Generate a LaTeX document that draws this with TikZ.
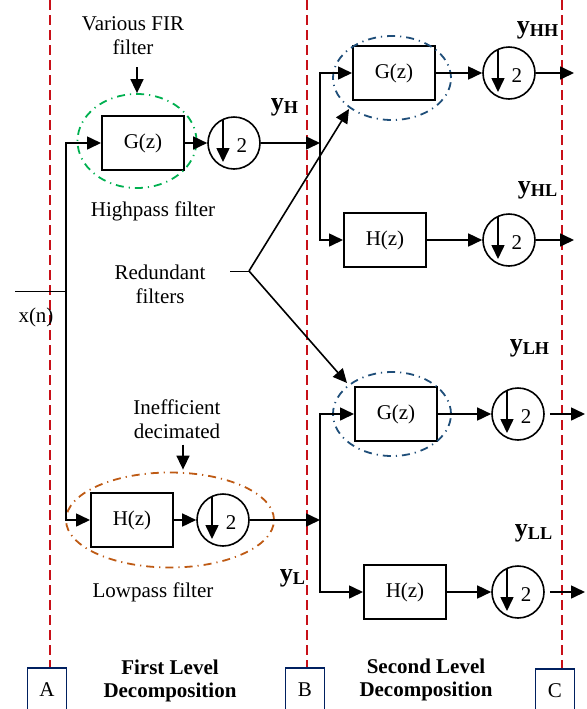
\documentclass[tikz,border=0pt]{standalone}
\usepackage{fontspec}
\setmainfont{Liberation Serif}
\usetikzlibrary{arrows.meta,shapes.geometric}
\definecolor{divred}{RGB}{200,16,24}
\definecolor{hpgreen}{RGB}{0,176,80}
\definecolor{lpbrown}{RGB}{190,90,20}
\definecolor{rfblue}{RGB}{31,78,121}
\definecolor{tagblue}{RGB}{0,32,96}
\newcommand{\dectwo}[3]{%
  \node[dec] (#1) at (#2,#3) {};
  \draw[arr] ([shift={(-11,-24)}]#1.center) -- ([shift={(-11,19)}]#1.center);
  \node (#1n) at ([shift={(8,3)}]#1.center) {2};}
\begin{document}
\begin{tikzpicture}[x=0.5pt,y=-0.5pt,font=\fontsize{10.5}{12}\selectfont,
  filt/.style={draw,line width=1pt,minimum width=41pt,minimum height=27pt,inner sep=0pt},
  dec/.style={circle,draw,line width=0.8pt,minimum size=26pt,inner sep=0pt},
  arr/.style={line width=0.8pt,-{Triangle[length=7pt,width=6.5pt]}},
  ring/.style={ellipse,draw,line width=0.9pt,inner sep=0pt,dash pattern=on 4pt off 2.5pt on 0.6pt off 2.5pt},
  sig/.style={font=\fontsize{13}{14}\selectfont\bfseries},
  tag/.style={draw=tagblue,line width=0.9pt,minimum width=19.5pt,minimum height=22pt},
  divide/.style={divred,line width=1pt,dash pattern=on 5pt off 2.5pt}]
\useasboundingbox (0,0) rectangle (587,709);
% level boundaries
\draw[divide] (50,0) -- (50,668);
\draw[divide] (307,0) -- (307,668);
\draw[divide] (562,0) -- (562,670);
\node[tag] (ta) at (47,690) {A};
\node[tag] (tb) at (305,690) {B};
\node[tag] (tc) at (555,691) {C};
\node[align=center,font=\fontsize{10.5}{11.5}\selectfont\bfseries] (lev1) at (170,681) {First Level\\Decomposition};
\node[align=center,font=\fontsize{10.5}{11.5}\selectfont\bfseries] (lev2) at (426,680) {Second Level\\Decomposition};
% first level
\coordinate (xin) at (15,291);
\coordinate (xs) at (66,291);
\node (xn) at (36,317) {x(n)};
\node[filt] (g1) at (143,143) {G(z)};
\dectwo{d1}{234}{143}
\node[filt] (h1) at (132,520) {H(z)};
\dectwo{d2}{223}{520}
\node[ring,draw=hpgreen,minimum width=59.5pt,minimum height=47pt] (hp) at (137,141) {};
\node[ring,draw=lpbrown,minimum width=104pt,minimum height=47.5pt] (lp) at (170,520) {};
\draw (xin) -- (xs);
\draw[arr] (xs) |- (g1.west);
\draw[arr] (xs) |- (h1.west);
\draw[arr] (g1) -- (d1);
\draw[arr] (h1) -- (d2);
\coordinate (b1) at (320,143);
\coordinate (b2) at (320,520);
\draw[arr] (d1) -- (b1);
\draw[arr] (d2) -- (b2);
\node[align=center] (fir) at (133,36) {Various FIR\\filter};
\draw[arr] ([yshift=13pt]hp.north) -- (hp.north);
\node[align=center] (ineff) at (177,419) {Inefficient\\decimated};
\draw[arr] ([shift={(13,-27)}]lp.north) -- ([shift={(13,-2)}]lp.north);
\node (hpl) at (153,211) {Highpass filter};
\node (lpl) at (153,592) {Lowpass filter};
\node[sig] (yh) at (285,107) {y\textsubscript{H}};
\node[sig] (yl) at (293,578) {y\textsubscript{L}};
% second level
\node[filt] (g2) at (394,73) {G(z)};
\dectwo{d3}{509}{73}
\node[filt] (h2) at (385,240) {H(z)};
\dectwo{d4}{509}{240}
\node[filt] (g3) at (396,414) {G(z)};
\dectwo{d5}{518}{414}
\node[filt] (h3) at (405,592) {H(z)};
\dectwo{d6}{518}{592}
\node[ring,draw=rfblue,minimum width=59pt,minimum height=42pt] (rf1) at (392,78) {};
\node[ring,draw=rfblue,minimum width=59pt,minimum height=42pt] (rf2) at (392,414) {};
\draw[arr] (b1) |- (g2.west);
\draw[arr] (b1) |- (h2.west);
\draw[arr] (b2) |- (g3.west);
\draw[arr] (b2) |- (h3.west);
\draw[arr] (g2) -- (d3);
\draw[arr] (h2) -- (d4);
\draw[arr] (g3) -- (d5);
\draw[arr] (h3) -- (d6);
\coordinate (o3) at (574,73);
\coordinate (o4) at (574,240);
\coordinate (o5) at (585,414);
\coordinate (o6) at (585,592);
\draw[arr] (d3) -- (o3);
\draw[arr] (d4) -- (o4);
\draw[arr] ([xshift=2.5pt]d5.east) -- (o5);
\draw[arr] ([xshift=2.5pt]d6.east) -- (o6);
\node[sig] (yhh) at (538,30) {y\textsubscript{HH}};
\node[sig] (yhl) at (538,190) {y\textsubscript{HL}};
\node[sig] (ylh) at (530,348) {y\textsubscript{LH}};
\node[sig] (yll) at (534,533) {y\textsubscript{LL}};
% redundant filters
\node[align=center] (red) at (160,284) {Redundant\\filters};
\coordinate (rs) at (230,271);
\coordinate (rj) at (249,271);
\draw (rs) -- (rj);
\draw[arr] (rj) -- ([shift={(-3,8)}]g2.south west);
\draw[arr] (rj) -- ([shift={(-7,-3)}]g3.north west);
\end{tikzpicture}
\end{document}
